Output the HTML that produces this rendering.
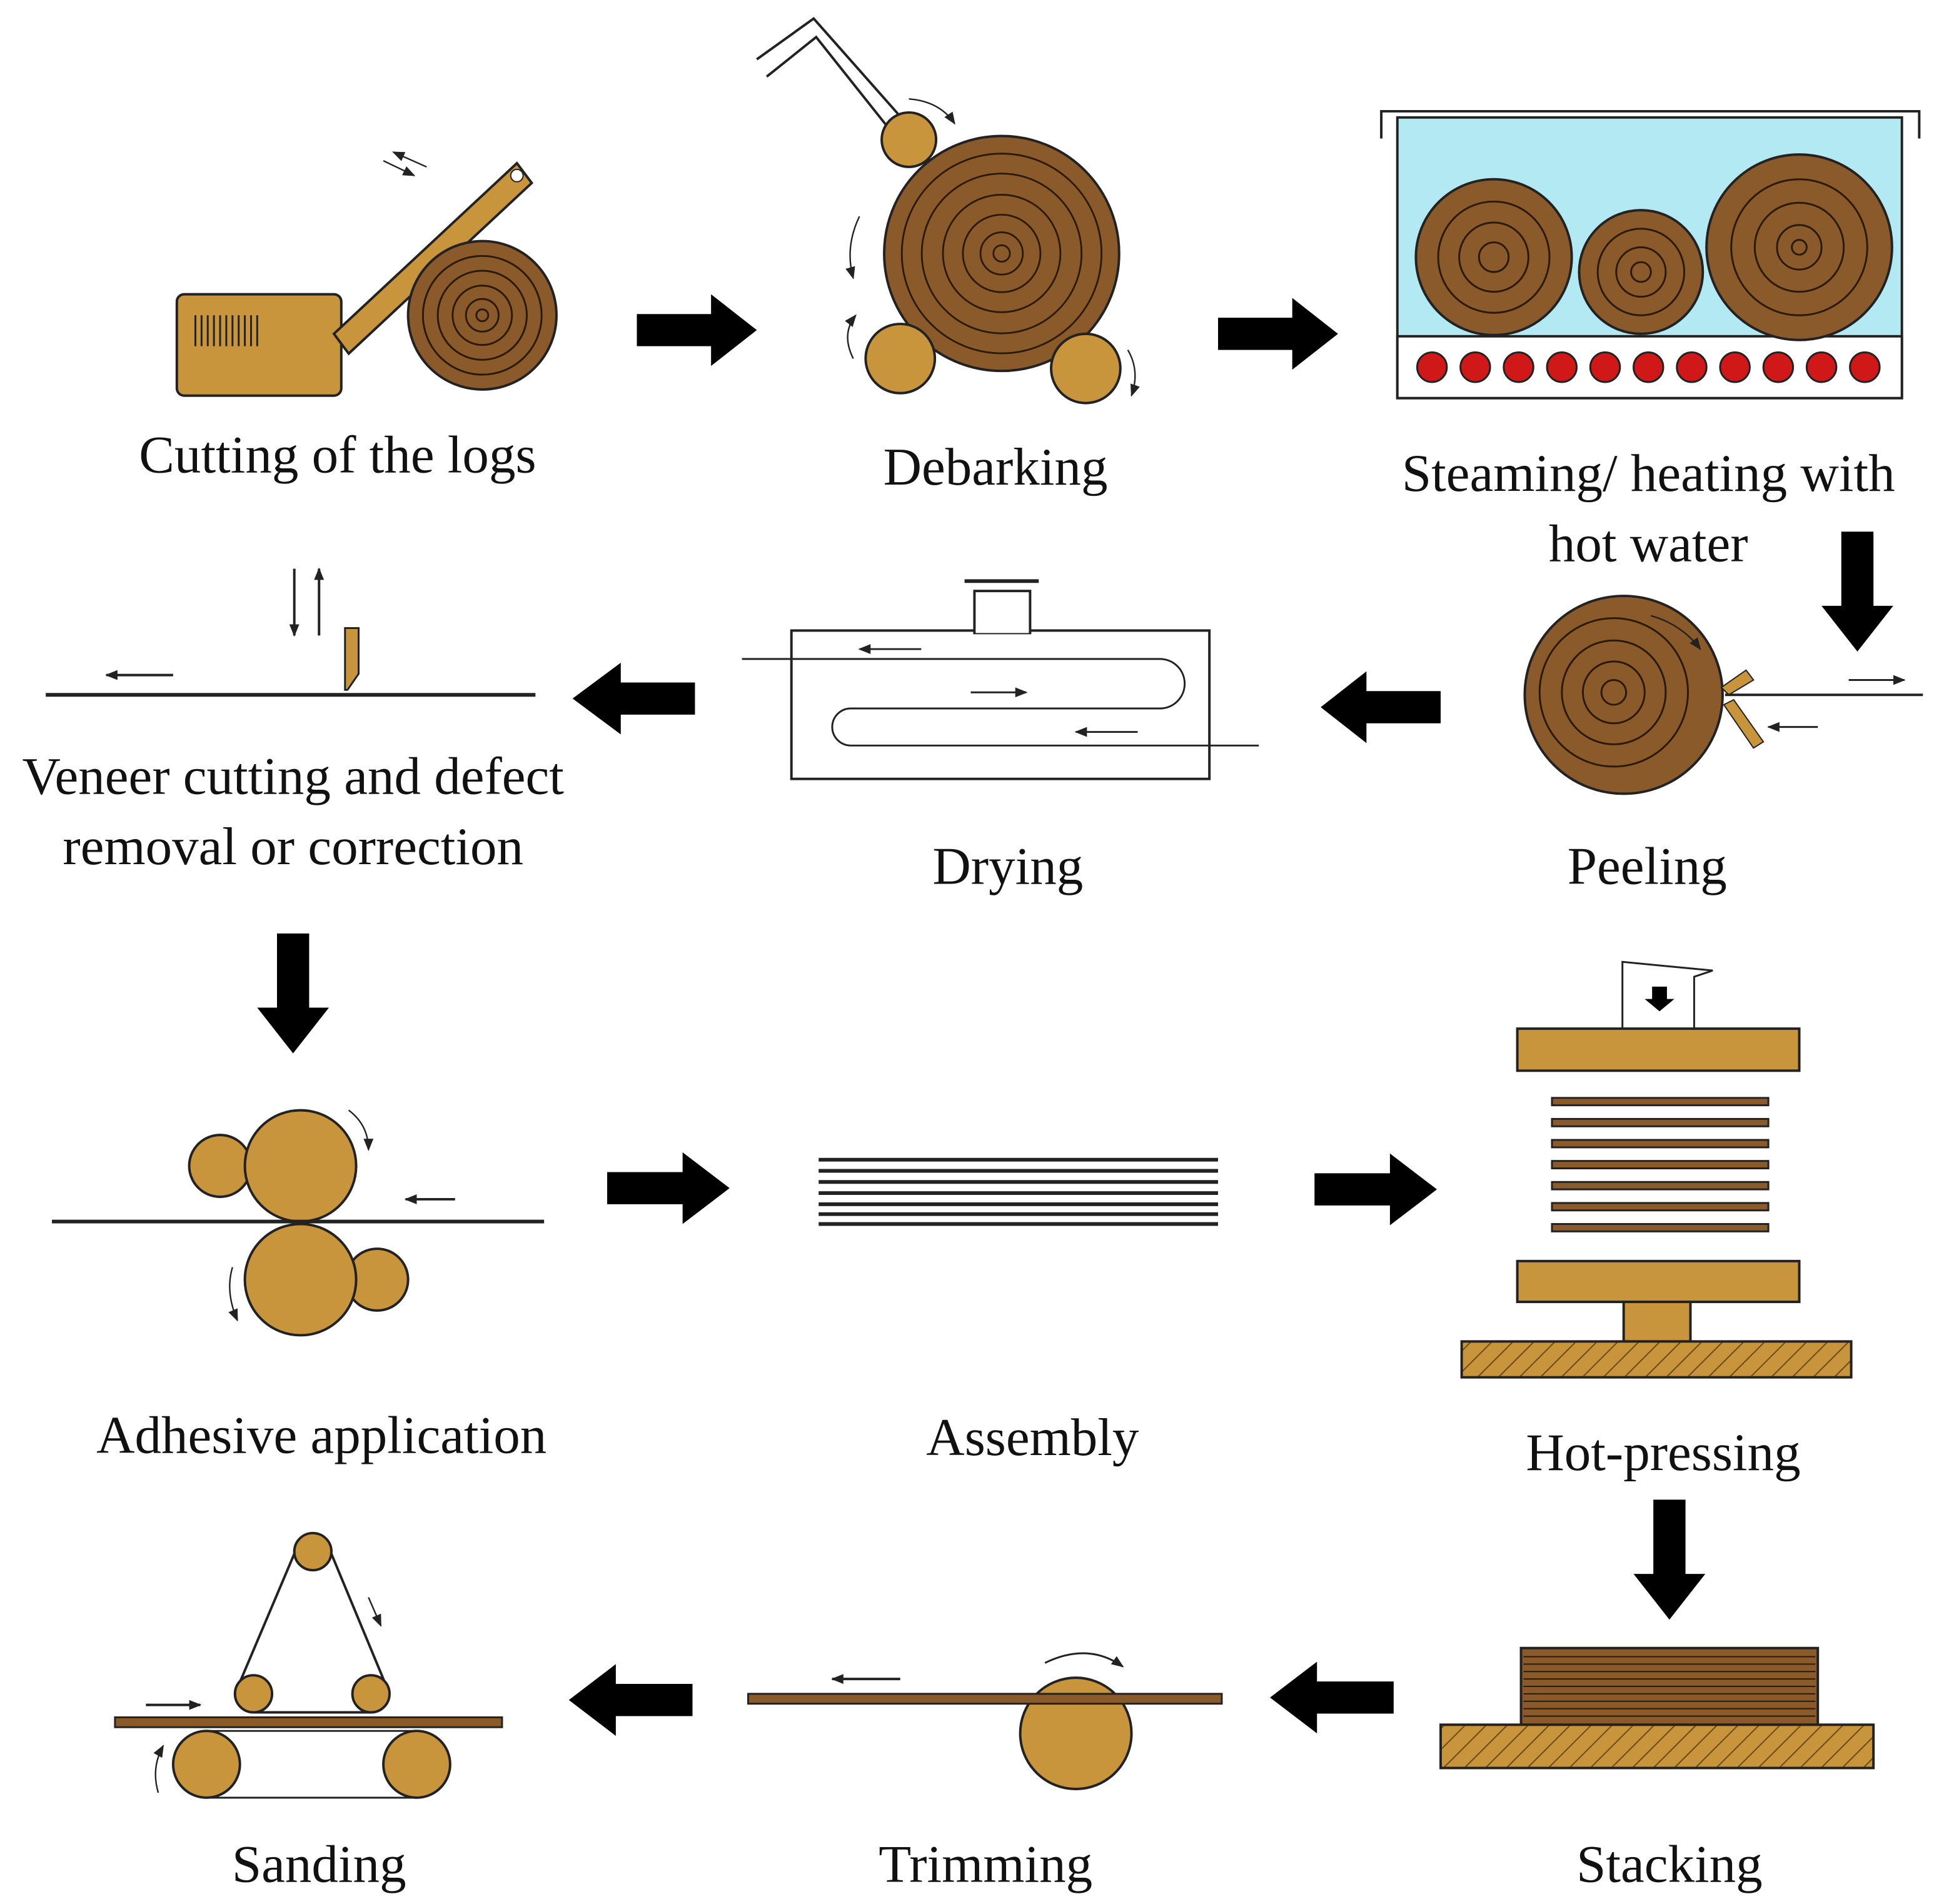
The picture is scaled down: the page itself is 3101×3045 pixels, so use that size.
<!DOCTYPE html>
<html><head><meta charset="utf-8"><style>
html,body{margin:0;padding:0;background:#fff;}
svg{display:block;}
text{font-family:"Liberation Serif",serif;font-size:43px;fill:#111;text-anchor:middle;}
</style></head><body>
<svg width="3101" height="3045" viewBox="0 0 1568 1540" preserveAspectRatio="none" xmlns="http://www.w3.org/2000/svg">
<defs>
<pattern id="hatch" width="12" height="12" patternUnits="userSpaceOnUse" patternTransform="rotate(45)">
<rect width="12" height="12" fill="#c8943c"/><line x1="0" y1="0" x2="0" y2="12" stroke="#6b4a1a" stroke-width="2"/>
</pattern>
<marker id="ah" markerWidth="10" markerHeight="8" refX="9" refY="4" orient="auto" markerUnits="userSpaceOnUse">
<polygon points="0,0 10,4 0,8" fill="#222"/></marker>
</defs>
<rect width="1568" height="1540" fill="#fff"/>

<!-- 1 Cutting -->
<rect x="143" y="238" width="133" height="82" rx="6" fill="#c8943c" stroke="#222" stroke-width="2"/>
<g stroke="#222" stroke-width="1.5"><line x1="158" y1="255" x2="158" y2="280"/><line x1="163" y1="255" x2="163" y2="280"/><line x1="168" y1="255" x2="168" y2="280"/><line x1="173" y1="255" x2="173" y2="280"/><line x1="178" y1="255" x2="178" y2="280"/><line x1="183" y1="255" x2="183" y2="280"/><line x1="188" y1="255" x2="188" y2="280"/><line x1="193" y1="255" x2="193" y2="280"/><line x1="198" y1="255" x2="198" y2="280"/><line x1="203" y1="255" x2="203" y2="280"/><line x1="208" y1="255" x2="208" y2="280"/></g>
<polygon points="270,270 282,286 430,148 418,132" fill="#c8943c" stroke="#222" stroke-width="2"/>
<circle cx="418" cy="142" r="5" fill="#fff" stroke="#222"/>
<line x1="310" y1="130" x2="335" y2="142" stroke="#222" stroke-width="1.2" marker-end="url(#ah)"/>
<line x1="345" y1="135" x2="318" y2="123" stroke="#222" stroke-width="1.2" marker-end="url(#ah)"/>
<circle cx="390" cy="255" r="60" fill="#8b5a2b" stroke="#222" stroke-width="2"/>
<g transform="translate(390,255) scale(60)"><g fill="none" stroke="#2a1a0a" stroke-width="0.025"><circle r="0.8"/><circle r="0.6"/><circle r="0.4"/><circle r="0.22"/><circle r="0.08"/></g></g>
<text x="273" y="382">Cutting of the logs</text>
<polygon points="515,254 575,254 575,238 612,267 575,296 575,280 515,280" fill="#000"/>

<!-- 2 Debarking -->
<polyline points="612,48 658,15 742,110" fill="none" stroke="#222" stroke-width="2"/>
<polyline points="620,62 660,30 730,118" fill="none" stroke="#222" stroke-width="2"/>
<circle cx="735" cy="113" r="22" fill="#c8943c" stroke="#222" stroke-width="2"/>
<circle cx="810" cy="205" r="95" fill="#8b5a2b" stroke="#222" stroke-width="2"/>
<g transform="translate(810,205) scale(95)"><g fill="none" stroke="#2a1a0a" stroke-width="0.015"><circle r="0.85"/><circle r="0.68"/><circle r="0.5"/><circle r="0.33"/><circle r="0.18"/><circle r="0.07"/></g></g>
<circle cx="728" cy="290" r="28" fill="#c8943c" stroke="#222" stroke-width="2"/>
<circle cx="878" cy="298" r="28" fill="#c8943c" stroke="#222" stroke-width="2"/>
<path d="M695,175 Q683,200 690,225" fill="none" stroke="#222" stroke-width="1.2" marker-end="url(#ah)"/>
<path d="M690,290 Q680,270 692,255" fill="none" stroke="#222" stroke-width="1.2" marker-end="url(#ah)"/>
<path d="M912,283 Q922,300 915,320" fill="none" stroke="#222" stroke-width="1.2" marker-end="url(#ah)"/>
<path d="M735,80 Q760,82 772,100" fill="none" stroke="#222" stroke-width="1.2" marker-end="url(#ah)"/>
<text x="805" y="392">Debarking</text>
<polygon points="985,257 1045,257 1045,241 1082,270 1045,299 1045,283 985,283" fill="#000"/>

<!-- 3 Steaming -->
<rect x="1130" y="95" width="408" height="227" fill="#b3e9f2" stroke="#222" stroke-width="2"/>
<polyline points="1117,112 1117,90 1552,90 1552,112" fill="none" stroke="#222" stroke-width="2"/>
<rect x="1130" y="272" width="408" height="50" fill="#fff" stroke="#222" stroke-width="2"/>
<g fill="#d01818" stroke="#222" stroke-width="1.5">
<circle cx="1158" cy="297" r="12"/><circle cx="1193" cy="297" r="12"/><circle cx="1228" cy="297" r="12"/><circle cx="1263" cy="297" r="12"/><circle cx="1298" cy="297" r="12"/><circle cx="1333" cy="297" r="12"/><circle cx="1368" cy="297" r="12"/><circle cx="1403" cy="297" r="12"/><circle cx="1438" cy="297" r="12"/><circle cx="1473" cy="297" r="12"/><circle cx="1508" cy="297" r="12"/></g>
<circle cx="1208" cy="208" r="63" fill="#8b5a2b" stroke="#222" stroke-width="2"/>
<circle cx="1327" cy="220" r="50" fill="#8b5a2b" stroke="#222" stroke-width="2"/>
<circle cx="1455" cy="200" r="75" fill="#8b5a2b" stroke="#222" stroke-width="2"/>
<g fill="none" stroke="#2a1a0a" stroke-width="1.5">
<circle cx="1208" cy="208" r="45"/><circle cx="1208" cy="208" r="28"/><circle cx="1208" cy="208" r="12"/>
<circle cx="1327" cy="220" r="35"/><circle cx="1327" cy="220" r="20"/><circle cx="1327" cy="220" r="8"/>
<circle cx="1455" cy="200" r="55"/><circle cx="1455" cy="200" r="36"/><circle cx="1455" cy="200" r="18"/><circle cx="1455" cy="200" r="6"/></g>
<text x="1333" y="397">Steaming/ heating with</text>
<text x="1333" y="454">hot water</text>
<polygon points="1489,430 1515,430 1515,490 1531,490 1502,527 1473,490 1489,490" fill="#000"/>

<!-- 4 Peeling -->
<circle cx="1313" cy="562" r="80" fill="#8b5a2b" stroke="#222" stroke-width="2"/>
<g fill="none" stroke="#2a1a0a" stroke-width="1.5"><circle cx="1305" cy="560" r="60"/><circle cx="1305" cy="560" r="42"/><circle cx="1305" cy="560" r="25"/><circle cx="1305" cy="560" r="10"/></g>
<polygon points="1392,556 1412,542 1418,550 1398,562" fill="#c8943c" stroke="#222"/>
<polygon points="1394,570 1418,605 1426,600 1402,566" fill="#c8943c" stroke="#222"/>
<line x1="1395" y1="562" x2="1555" y2="562" stroke="#222" stroke-width="2"/>
<line x1="1495" y1="550" x2="1540" y2="550" stroke="#222" stroke-width="1.5" marker-end="url(#ah)"/>
<line x1="1470" y1="588" x2="1430" y2="588" stroke="#222" stroke-width="1.5" marker-end="url(#ah)"/>
<path d="M1335,498 Q1360,505 1375,525" fill="none" stroke="#222" stroke-width="1.2" marker-end="url(#ah)"/>
<text x="1332" y="715">Peeling</text>
<polygon points="1165,559 1105,559 1105,543 1068,572 1105,601 1105,585 1165,585" fill="#000"/>

<!-- 5 Drying -->
<rect x="640" y="510" width="338" height="120" fill="#fff" stroke="#222" stroke-width="2"/>
<rect x="788" y="478" width="45" height="34" fill="#fff" stroke="#222" stroke-width="2"/>
<line x1="789" y1="510" x2="832" y2="510" stroke="#fff" stroke-width="4"/>
<line x1="780" y1="470" x2="840" y2="470" stroke="#222" stroke-width="3"/>
<path d="M600,533 H938 A20,20 0 0 1 938,573 H688 A15,15 0 0 0 688,603 H1018" fill="none" stroke="#222" stroke-width="1.5"/>
<line x1="745" y1="525" x2="695" y2="525" stroke="#222" stroke-width="1.5" marker-end="url(#ah)"/>
<line x1="785" y1="560" x2="830" y2="560" stroke="#222" stroke-width="1.5" marker-end="url(#ah)"/>
<line x1="920" y1="592" x2="870" y2="592" stroke="#222" stroke-width="1.5" marker-end="url(#ah)"/>
<text x="815" y="715">Drying</text>
<polygon points="562,552 502,552 502,536 463,565 502,594 502,578 562,578" fill="#000"/>

<!-- 6 Veneer cutting -->
<line x1="37" y1="562" x2="433" y2="562" stroke="#222" stroke-width="3"/>
<polygon points="279,508 290,508 290,545 281,558 279,558" fill="#c8943c" stroke="#222" stroke-width="1.5"/>
<line x1="238" y1="460" x2="238" y2="514" stroke="#222" stroke-width="2" marker-end="url(#ah)"/>
<line x1="258" y1="514" x2="258" y2="460" stroke="#222" stroke-width="2" marker-end="url(#ah)"/>
<line x1="140" y1="546" x2="86" y2="546" stroke="#222" stroke-width="2" marker-end="url(#ah)"/>
<text x="237" y="642">Veneer cutting and defect</text>
<text x="237" y="699">removal or correction</text>
<polygon points="224,755 250,755 250,815 266,815 237,852 208,815 224,815" fill="#000"/>

<!-- 7 Adhesive -->
<circle cx="178" cy="943" r="25" fill="#c8943c" stroke="#222" stroke-width="2"/>
<circle cx="305" cy="1035" r="25" fill="#c8943c" stroke="#222" stroke-width="2"/>
<circle cx="243" cy="943" r="45" fill="#c8943c" stroke="#222" stroke-width="2"/>
<circle cx="243" cy="1035" r="45" fill="#c8943c" stroke="#222" stroke-width="2"/>
<line x1="42" y1="988" x2="440" y2="988" stroke="#222" stroke-width="3"/>
<line x1="368" y1="970" x2="328" y2="970" stroke="#222" stroke-width="2" marker-end="url(#ah)"/>
<path d="M282,898 Q298,910 298,930" fill="none" stroke="#222" stroke-width="1.2" marker-end="url(#ah)"/>
<path d="M188,1025 Q182,1045 192,1068" fill="none" stroke="#222" stroke-width="1.2" marker-end="url(#ah)"/>
<text x="260" y="1175">Adhesive application</text>
<polygon points="491,948 552,948 552,932 590,961 552,990 552,974 491,974" fill="#000"/>

<!-- 8 Assembly -->
<g stroke="#222" stroke-width="3"><line x1="662" y1="938" x2="985" y2="938"/><line x1="662" y1="947" x2="985" y2="947"/><line x1="662" y1="956" x2="985" y2="956"/><line x1="662" y1="965" x2="985" y2="965"/><line x1="662" y1="974" x2="985" y2="974"/><line x1="662" y1="982" x2="985" y2="982"/><line x1="662" y1="990" x2="985" y2="990"/></g>
<text x="835" y="1177">Assembly</text>
<polygon points="1063,949 1124,949 1124,933 1162,962 1124,991 1124,975 1063,975" fill="#000"/>

<!-- 9 Hot-pressing -->
<polyline points="1312,832 1312,778 1385,785 1370,790 1370,832" fill="none" stroke="#222" stroke-width="1.5"/>
<polygon points="1336,798 1348,798 1348,808 1354,808 1342,818 1330,808 1336,808" fill="#000"/>
<rect x="1227" y="832" width="228" height="34" fill="#c8943c" stroke="#222" stroke-width="2"/>
<g fill="#8b5a2b" stroke="#222" stroke-width="1.5">
<rect x="1255" y="888" width="175" height="6"/><rect x="1255" y="905" width="175" height="6"/><rect x="1255" y="922" width="175" height="6"/><rect x="1255" y="939" width="175" height="6"/><rect x="1255" y="956" width="175" height="6"/><rect x="1255" y="973" width="175" height="6"/><rect x="1255" y="990" width="175" height="6"/></g>
<rect x="1227" y="1020" width="228" height="33" fill="#c8943c" stroke="#222" stroke-width="2"/>
<rect x="1313" y="1053" width="54" height="32" fill="#c8943c" stroke="#222" stroke-width="2"/>
<rect x="1182" y="1085" width="315" height="29" fill="url(#hatch)" stroke="#222" stroke-width="2"/>
<text x="1345" y="1189">Hot-pressing</text>
<polygon points="1337,1213 1363,1213 1363,1273 1379,1273 1350,1310 1321,1273 1337,1273" fill="#000"/>

<!-- 10 Stacking -->
<rect x="1230" y="1333" width="240" height="62" fill="#8b5a2b" stroke="#222" stroke-width="2"/>
<g stroke="#2a1a0a" stroke-width="1"><line x1="1232" y1="1340" x2="1468" y2="1340"/><line x1="1232" y1="1346" x2="1468" y2="1346"/><line x1="1232" y1="1352" x2="1468" y2="1352"/><line x1="1232" y1="1358" x2="1468" y2="1358"/><line x1="1232" y1="1364" x2="1468" y2="1364"/><line x1="1232" y1="1370" x2="1468" y2="1370"/><line x1="1232" y1="1376" x2="1468" y2="1376"/><line x1="1232" y1="1382" x2="1468" y2="1382"/><line x1="1232" y1="1388" x2="1468" y2="1388"/></g>
<rect x="1165" y="1395" width="350" height="35" fill="url(#hatch)" stroke="#222" stroke-width="2"/>
<text x="1350" y="1522">Stacking</text>
<polygon points="1127,1360 1065,1360 1065,1344 1027,1373 1065,1402 1065,1386 1127,1386" fill="#000"/>

<!-- 11 Trimming -->
<circle cx="870" cy="1402" r="45" fill="#c8943c" stroke="#222" stroke-width="2"/>
<rect x="605" y="1370" width="383" height="8" fill="#8b5a2b" stroke="#222" stroke-width="1.5"/>
<line x1="728" y1="1358" x2="673" y2="1358" stroke="#222" stroke-width="2" marker-end="url(#ah)"/>
<path d="M845,1345 Q880,1328 908,1348" fill="none" stroke="#222" stroke-width="1.5" marker-end="url(#ah)"/>
<text x="797" y="1522">Trimming</text>
<polygon points="560,1362 498,1362 498,1346 460,1375 498,1404 498,1388 560,1388" fill="#000"/>

<!-- 12 Sanding -->
<path d="M240,1252 L190,1370 M266,1252 L315,1370" stroke="#222" stroke-width="2"/>
<circle cx="253" cy="1255" r="15" fill="#c8943c" stroke="#222" stroke-width="2"/>
<circle cx="205" cy="1370" r="15" fill="#c8943c" stroke="#222" stroke-width="2"/>
<circle cx="300" cy="1370" r="15" fill="#c8943c" stroke="#222" stroke-width="2"/>
<line x1="205" y1="1385" x2="300" y2="1385" stroke="#222" stroke-width="2"/>
<line x1="298" y1="1292" x2="308" y2="1315" stroke="#222" stroke-width="1.2" marker-end="url(#ah)"/>
<rect x="93" y="1389" width="313" height="8" fill="#8b5a2b" stroke="#222" stroke-width="1.5"/>
<line x1="167" y1="1400" x2="337" y2="1400" stroke="#222" stroke-width="1.5"/>
<line x1="167" y1="1454" x2="337" y2="1454" stroke="#222" stroke-width="1.5"/>
<circle cx="167" cy="1427" r="27" fill="#c8943c" stroke="#222" stroke-width="2"/>
<circle cx="337" cy="1427" r="27" fill="#c8943c" stroke="#222" stroke-width="2"/>
<path d="M128,1450 Q122,1430 132,1412" fill="none" stroke="#222" stroke-width="1.2" marker-end="url(#ah)"/>
<line x1="118" y1="1379" x2="162" y2="1379" stroke="#222" stroke-width="2" marker-end="url(#ah)"/>
<text x="258" y="1522">Sanding</text>
</svg>
</body></html>
